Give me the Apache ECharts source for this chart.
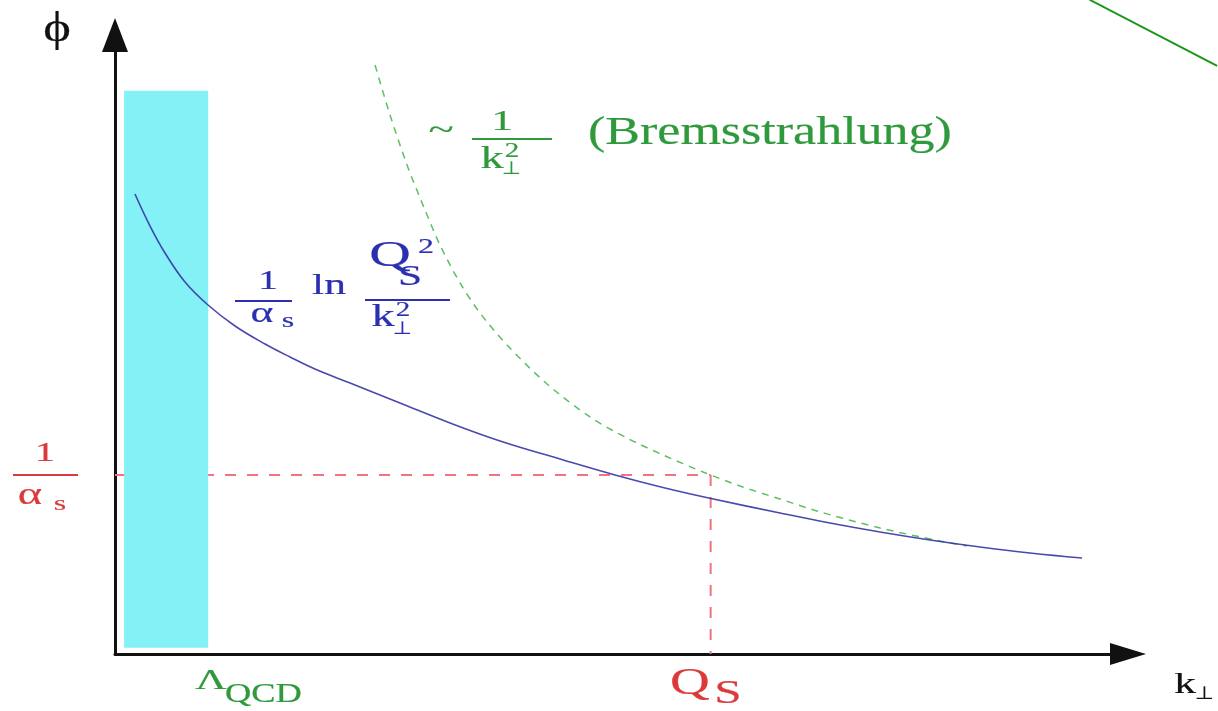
<!DOCTYPE html>
<html>
<head>
<meta charset="utf-8">
<script src="https://cdn.jsdelivr.net/npm/echarts@6/dist/echarts.min.js"></script>
<style>
  html, body { margin: 0; padding: 0; background: #ffffff; }
  #chart { width: 1218px; height: 711px; }
</style>
</head>
<body>
<div id="chart"></div>
<script>
// Schematic gluon distribution phi(k_perp): saturation curve vs. bremsstrahlung tail.
// Both axes use arbitrary linear units 0..100.

// saturation regime: (1/alpha_s) ln(Q_s^2 / k^2)
const satK   = [1.97, 3.46, 4.94, 6.91, 9.18, 11.85, 14.81, 17.28, 19.74, 23.20, 28.13, 33.07, 38.01, 43.93, 49.36, 54.29, 58.84, 65.65, 70.58, 75.52, 80.45, 85.39, 90.33, 95.46];
const satPhi = [74.31, 69.14, 64.78, 60.10, 56.38, 52.99, 50.08, 47.98, 46.04, 43.78, 40.55, 37.32, 34.41, 31.50, 28.92, 26.82, 25.12, 22.78, 21.16, 19.71, 18.42, 17.29, 16.32, 15.51];

// perturbative tail ~ 1/k^2
const bremK   = [25.67, 27.15, 28.83, 30.60, 32.08, 34.06, 36.03, 38.70, 42.65, 46.89, 50.54, 54.10, 58.05, 61.70, 65.65, 69.30, 75.52, 81.44, 84.11];
const bremPhi = [95.15, 87.08, 79.0, 71.73, 66.07, 59.94, 55.09, 49.92, 43.62, 38.29, 34.89, 32.15, 29.40, 27.14, 25.04, 23.10, 20.36, 18.26, 17.45];

// non-perturbative band near Lambda_QCD: [k0, k1, phi0, phi1]
const lambdaBand = [0.9, 9.2, 1, 91];

// saturation scale and the 1/alpha_s level
const qsK = 58.8;
const invAlphaPhi = 28.9;

// pointer stroke in the upper right corner
const pointerK   = [96.2, 108.8];
const pointerPhi = [105.7, 95.0];

const SERIF = '"Liberation Serif", "Times New Roman", serif';
const RED = '#dc3a3a';
const BLUE = '#2a30b0';
const GREEN = '#2e9a3c';
const SX = 1.45;

function txt(s, x, y, size, color, align, sx) {
  return {
    type: 'text', x: x, y: y, z: 100,
    scaleX: sx == null ? SX : sx,
    style: {
      text: s, fontSize: size, fontFamily: SERIF, fill: color,
      stroke: color, lineWidth: 0.2,
      textAlign: align || 'center', textVerticalAlign: 'middle'
    }
  };
}
function bar(x1, x2, y, color) {
  return {
    type: 'line', z: 100,
    shape: { x1: x1, y1: y, x2: x2, y2: y },
    style: { stroke: color, lineWidth: 2 }
  };
}

const chart = echarts.init(document.getElementById('chart'), null, { renderer: 'canvas' });

const axisCommon = {
  type: 'value', min: 0, max: 100,
  axisTick: { show: false }, axisLabel: { show: false }, splitLine: { show: false }
};

chart.setOption({
  animation: false,
  backgroundColor: '#ffffff',
  grid: { left: 115, right: 90, top: 35, bottom: 57, containLabel: false },
  xAxis: Object.assign({}, axisCommon, {
    axisLine: { show: true, onZero: false, symbol: ['none', 'triangle'], symbolSize: [22, 36],
      lineStyle: { color: '#111111', width: 3 } }
  }),
  yAxis: Object.assign({}, axisCommon, {
    axisLine: { show: true, onZero: false, symbol: ['none', 'triangle'], symbolSize: [26, 34],
      lineStyle: { color: '#111111', width: 3 } }
  }),
  series: [
    {
      type: 'line', z: 1, symbol: 'none', silent: true,
      data: [[0, invAlphaPhi], [qsK, invAlphaPhi]],
      lineStyle: { color: '#f07480', width: 2, type: [11, 11] }
    },
    {
      type: 'line', z: 1, symbol: 'none', silent: true,
      data: [[qsK, invAlphaPhi], [qsK, 0]],
      lineStyle: { color: '#f07480', width: 2, type: [11, 11] }
    },
    {
      type: 'custom', z: 2, silent: true,
      data: [lambdaBand],
      renderItem: function (params, api) {
        const p0 = api.coord([api.value(0), api.value(3)]);
        const p1 = api.coord([api.value(1), api.value(2)]);
        return {
          type: 'rect',
          shape: { x: p0[0], y: p0[1], width: p1[0] - p0[0], height: p1[1] - p0[1] },
          style: { fill: '#84f1f7' }
        };
      }
    },
    {
      type: 'line', z: 3, symbol: 'none', smooth: 0.3, silent: true,
      data: bremK.map((k, i) => [k, bremPhi[i]]),
      lineStyle: { color: '#5cc060', width: 1.5, type: [7, 6] }
    },
    {
      type: 'line', z: 4, symbol: 'none', smooth: 0.4, silent: true,
      data: satK.map((k, i) => [k, satPhi[i]]),
      lineStyle: { color: '#3535a5', width: 1.6, opacity: 0.9 }
    }
  ]
});

// pointer stroke lies outside the plotting area, so it is drawn as a graphic element
const pA = chart.convertToPixel({ gridIndex: 0 }, [pointerK[0], pointerPhi[0]]);
const pB = chart.convertToPixel({ gridIndex: 0 }, [pointerK[1], pointerPhi[1]]);

chart.setOption({
  graphic: [
    {
      type: 'line', z: 100,
      shape: { x1: pA[0], y1: pA[1], x2: pB[0], y2: pB[1] },
      style: { stroke: '#1a961a', lineWidth: 2 }
    },

    // axis titles
    txt('\u03D5', 57, 30, 42, '#111111', 'center', 1.25),
    txt('k', 1185, 685, 30, '#111111'),
    txt('\u22A5', 1205, 694, 18, '#111111', 'center', 1.2),

    // 1/alpha_s level on the phi axis
    txt('1', 45, 454, 28, RED),
    bar(13, 78, 475, RED),
    txt('\u03B1', 30, 496, 32, RED),
    txt('s', 60, 504, 22, RED),

    // Q_s on the k axis
    txt('Q', 690, 684, 38, RED),
    txt('S', 728, 694, 34, RED),

    // Lambda_QCD on the k axis
    txt('\u039B', 211, 681, 30, GREEN),
    txt('QCD', 225, 695, 28, GREEN, 'left', 1.3),

    // saturation curve label
    txt('1', 268, 282, 27, BLUE),
    bar(235, 292, 301, BLUE),
    txt('\u03B1', 262, 314, 30, BLUE),
    txt('s', 288, 321, 22, BLUE),
    txt('ln', 329, 286, 30, BLUE),
    txt('Q', 390, 257, 36, BLUE, 'center', 1.6),
    txt('S', 410, 277, 30, BLUE),
    txt('2', 426, 247, 22, BLUE),
    bar(365, 450, 300, BLUE),
    txt('k', 383, 318, 32, BLUE),
    txt('2', 403, 311, 20, BLUE),
    txt('\u22A5', 403, 329, 18, BLUE, 'center', 1.2),

    // bremsstrahlung label
    txt('~', 441, 132, 32, GREEN),
    txt('1', 502, 122, 30, GREEN),
    bar(472, 552, 139, GREEN),
    txt('k', 492, 160, 32, GREEN),
    txt('2', 512, 152, 20, GREEN),
    txt('\u22A5', 512, 169, 18, GREEN, 'center', 1.2),
    txt('(Bremsstrahlung)', 588, 133, 40, GREEN, 'left', 1.3)
  ]
});
</script>
</body>
</html>
